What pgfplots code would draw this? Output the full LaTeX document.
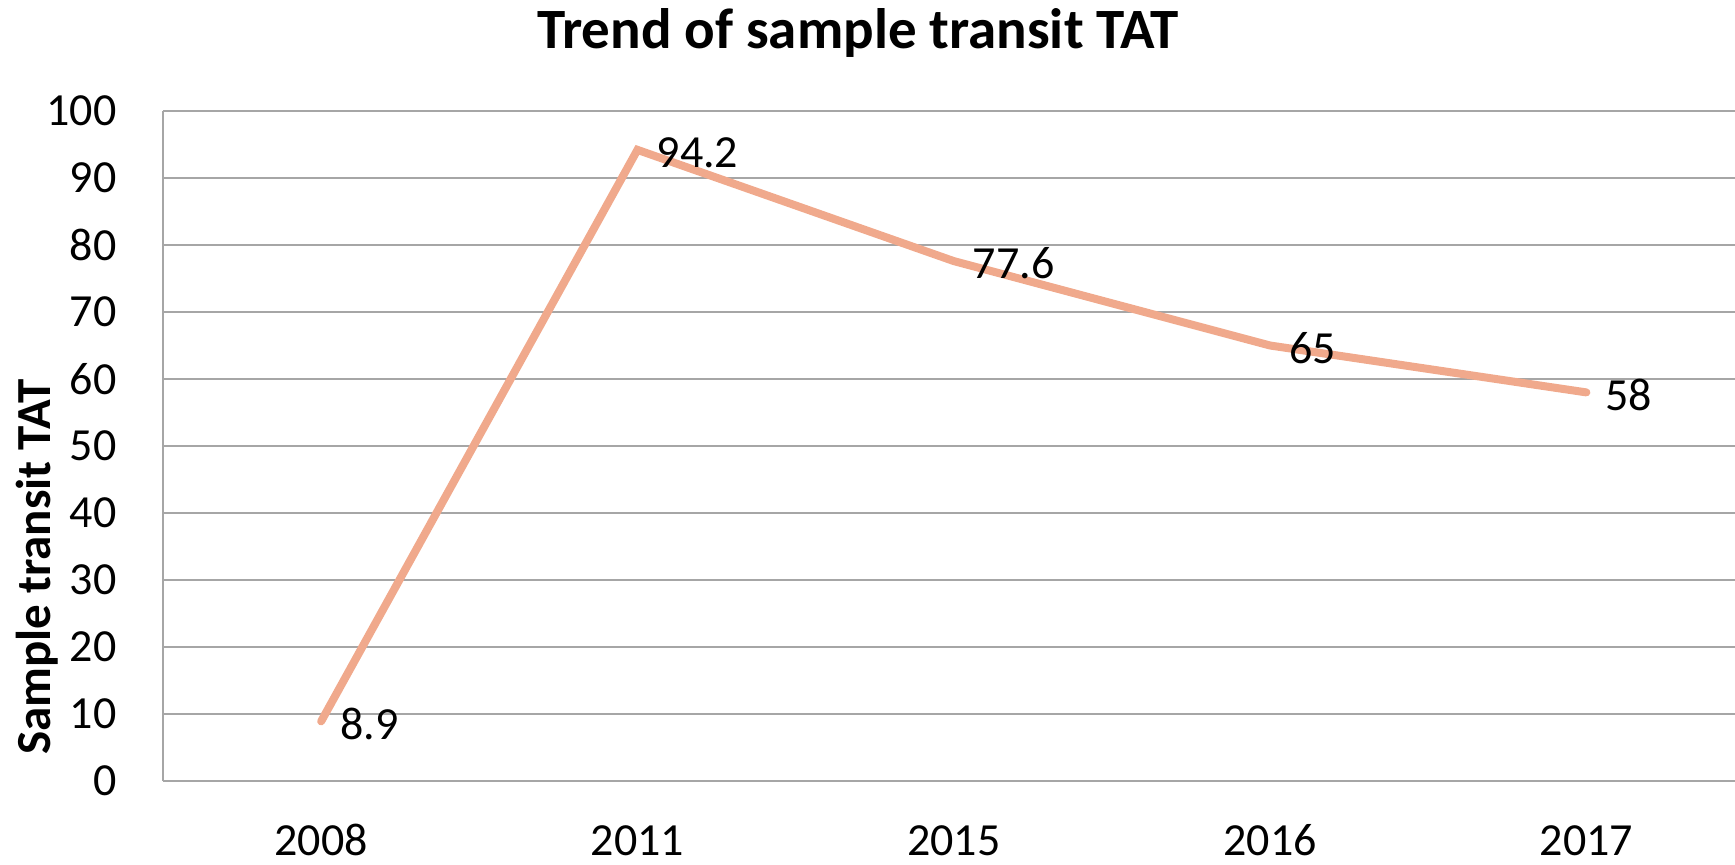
\documentclass[border=0pt]{standalone}
\usepackage{pgfplots}
\pgfplotsset{compat=1.18}
\usepackage{fontspec}
\setmainfont{Carlito}
\definecolor{lineC}{HTML}{F0A98C}
\definecolor{gridC}{HTML}{A6A6A6}
\begin{document}
\begin{tikzpicture}
\path[use as bounding box] (-81.5bp,-42bp) rectangle (786bp,390.5bp);
\begin{axis}[
  scale only axis,
  width=786bp, height=335bp,
  xmin=-0.5, xmax=4.47,
  ymin=0, ymax=100,
  ytick={0,10,...,100},
  xtick={0,1,2,3,4},
  xticklabels={2008,2011,2015,2016,2017},
  axis x line=bottom, axis y line=left,
  axis line style={gridC, line width=1bp, -},
  major tick length=0pt,
  ymajorgrids,
  major grid style={gridC, line width=1bp},
  /pgf/number format/assume math mode=true,
  tick label style={font=\fontsize{23bp}{28bp}\selectfont, black},
  yticklabel style={anchor=east, inner sep=0pt, xshift=-23bp},
  xticklabel style={anchor=base, inner sep=0pt, yshift=-37bp},
  ylabel={Sample transit TAT},
  ylabel style={font=\fontsize{24.5bp}{29bp}\selectfont\bfseries, at={(axis description cs:-0.0802,0.319)}, anchor=center, inner sep=0pt},
  clip=false,
]
\addplot[lineC, line width=4bp, line cap=round, mark=none,
  nodes near coords,
  nodes near coords align={anchor=west},
  every node near coord/.append style={font=\fontsize{23bp}{28bp}\selectfont, black, xshift=4.3bp, yshift=-1.25bp},
] coordinates {(0,8.9) (1,94.2) (2,77.6) (3,65) (4,58)};
\node[anchor=base, inner sep=0pt, font=\fontsize{28.5bp}{33bp}\selectfont\bfseries] at (axis description cs:0.442,1.094) {Trend of sample transit TAT};
\end{axis}
\end{tikzpicture}
\end{document}
